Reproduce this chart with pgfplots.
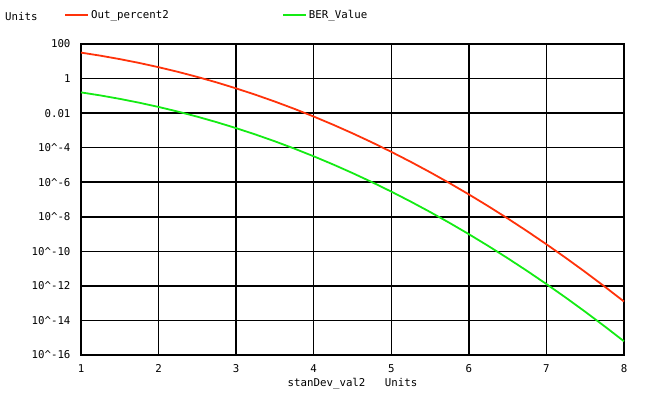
\documentclass[border=0pt]{standalone}
\usepackage{fontspec}
\setmonofont{DejaVu Sans Mono}
\usepackage{pgfplots}
\pgfplotsset{compat=1.18}
\definecolor{cred}{RGB}{255,50,10}
\definecolor{cgreen}{RGB}{20,235,20}
\newcommand{\lbl}{\fontsize{10.8}{12}\selectfont\ttfamily}
\begin{document}
\begin{tikzpicture}
\path[use as bounding box] (-81bp,-42bp) rectangle (569bp,355bp);
\begin{axis}[
  at={(0,0)}, anchor=south west,
  scale only axis, width=543bp, height=311bp,
  ymode=log, xmin=1, xmax=8, ymin=1e-16, ymax=100,
  xtick={1,2,3,4,5,6,7,8},
  ytick={1e-16,1e-14,1e-12,1e-10,1e-8,1e-6,1e-4,1e-2,1,100},
  yticklabels={10\textasciicircum-16,10\textasciicircum-14,10\textasciicircum-12,10\textasciicircum-10,10\textasciicircum-8,10\textasciicircum-6,10\textasciicircum-4,0.01,1,100},
  minor ytick={}, 
  major tick length=0pt,
  grid=major,
  major grid style={black, line width=1.5bp},
  axis line style={black, line width=1.6bp},
  tick label style={font=\lbl},
  /pgf/number format/assume math mode=true,
  xticklabel style={yshift=-6bp},
  yticklabel style={xshift=-7bp},
  xlabel={stanDev\_val2\ \ \ Units},
  xlabel style={font=\lbl, yshift=1bp},
  legend columns=2,
  legend cell align=left,
  legend style={draw=none, fill=none, font=\lbl, at={(rel axis cs:-0.031,1.093)}, anchor=west, inner sep=0pt},
  legend image code/.code={\draw[#1] (0bp,0bp) -- (23bp,0bp);},
  clip=false,
]
\addplot[cred, line width=1.8bp] coordinates {
(1,31.73) (1.25,21.13) (1.5,13.36) (1.75,8.012) (2,4.550) (2.25,2.445) (2.5,1.242) (2.75,0.5960)
(3,0.2700) (3.25,0.1154) (3.5,0.04653) (3.75,0.01768) (4,0.006334) (4.25,0.002138) (4.5,6.795e-4)
(4.75,2.034e-4) (5,5.733e-5) (5.25,1.521e-5) (5.5,3.798e-6) (5.75,8.924e-7) (6,1.973e-7)
(6.25,4.105e-8) (6.5,8.032e-9) (6.75,1.478e-9) (7,2.560e-10) (7.25,4.166e-11) (7.5,6.382e-12)
(7.75,9.187e-13) (8,1.244e-13)};
\addlegendentry{\makebox[189bp][l]{Out\_percent2}}
\addplot[cgreen, line width=1.8bp] coordinates {
(1,0.158655) (1.25,0.105650) (1.5,0.0668072) (1.75,0.0400592) (2,0.0227501) (2.25,0.0122245)
(2.5,0.00620967) (2.75,0.00297976) (3,0.00134990) (3.25,5.77025e-4) (3.5,2.32629e-4)
(3.75,8.84173e-5) (4,3.16712e-5) (4.25,1.06885e-5) (4.5,3.39767e-6) (4.75,1.01708e-6)
(5,2.86652e-7) (5.25,7.6050e-8) (5.5,1.89896e-8) (5.75,4.4622e-9) (6,9.86588e-10)
(6.25,2.0523e-10) (6.5,4.0160e-11) (6.75,7.3914e-12) (7,1.27981e-12) (7.25,2.0829e-13)
(7.5,3.19089e-14) (7.75,4.5933e-15) (8,6.22096e-16)};
\addlegendentry{BER\_Value}
\end{axis}
\node[font=\lbl, anchor=west, inner sep=0pt] at (-76bp,339bp) {Units};
\end{tikzpicture}
\end{document}
